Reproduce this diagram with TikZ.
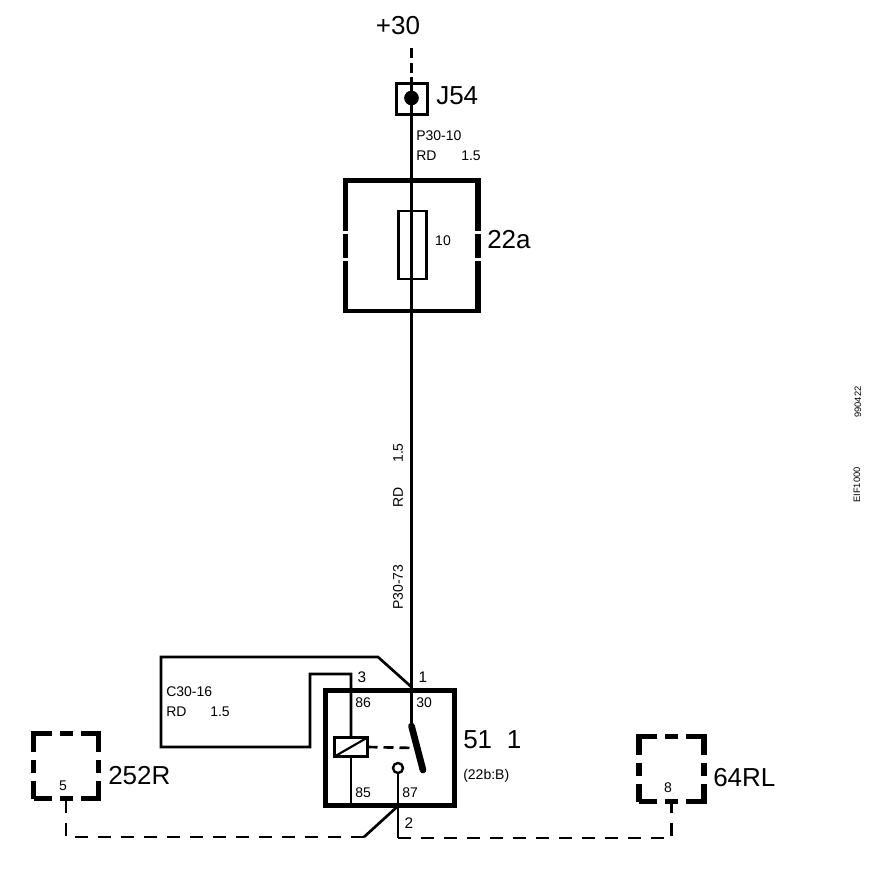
\documentclass[tikz,border=0pt]{standalone}
\usepackage{fontspec}
\setmainfont{Liberation Sans}
\usetikzlibrary{positioning,calc}

\tikzset{
    wire/.style={line width=2pt},
    mainwire/.style={line width=2.4pt},
    dashwire/.style={line width=2pt, dash pattern=on 9.75pt off 7.5pt},
    heavy/.style={line width=3.9pt},
    biglabel/.style={inner sep=0pt, font=\fontsize{19.5}{20}\selectfont},
    smalllabel/.style={inner sep=0pt, font=\fontsize{10.5}{11}\selectfont},
    pinlabel/.style={inner sep=0pt, font=\fontsize{11.5}{12}\selectfont},
    tinylabel/.style={inner sep=0pt, rotate=90, font=\fontsize{7}{8}\selectfont},
    wirelabel/.style={inner sep=0pt, rotate=90, font=\fontsize{10.5}{11}\selectfont},
    plugbox/.style={draw, outer sep=0pt, inner sep=0pt, line width=3.9pt, minimum width=48.75pt, minimum height=48.75pt,
        dash pattern=on 27pt off 6pt on 9.75pt off 6pt, dash phase=13.5pt}
}

\begin{document}
\begin{tikzpicture}[x=0.75pt, y=-0.75pt]
    \useasboundingbox (0,0) rectangle (896,878);

    % feed and splice
    \node[draw, outer sep=0pt, line width=2.4pt, minimum width=23.5pt, minimum height=23.5pt] (J54box) at (412,99) {};
    \node[circle, fill, inner sep=0pt, outer sep=0pt, minimum size=11pt] (J54dot) at (411.5,98) {};
    \coordinate (feed) at (411.5,48);
    \draw[line width=2.4pt, dash pattern=on 7.5pt off 3.5pt] (feed) -- (J54box.north -| feed);

    % fuse holder
    \node[outer sep=0pt, minimum width=99.4pt, minimum height=98pt] (holder) at (411.75,245.75) {};
    \draw[heavy] ($(holder.west)+(0,-15)$) -- (holder.north west) -- (holder.north east) -- ($(holder.east)+(0,-15)$);
    \draw[heavy] ($(holder.west)+(0,-12)$) -- ($(holder.west)+(0,12)$);
    \draw[heavy] ($(holder.east)+(0,-12)$) -- ($(holder.east)+(0,12)$);
    \draw[heavy] ($(holder.west)+(0,15)$) -- (holder.south west);
    \draw[heavy] ($(holder.east)+(0,15)$) -- (holder.south east);
    \draw[line width=2.4pt] ($(holder.south west)+(-2.5,0)$) -- ($(holder.south east)+(2.5,0)$);
    \node[draw, outer sep=0pt, line width=1.6pt, minimum width=21pt, minimum height=50.5pt] (fuse) at (412.5,245) {};

    % relay
    \node[draw, outer sep=0pt, line width=4pt, minimum width=96.75pt, minimum height=86.25pt] (relay) at (390,748) {};
    \node[draw, outer sep=0pt, line width=2pt, minimum width=24.75pt, minimum height=14.25pt] (coil) at (351,747) {};
    \node[circle, draw, outer sep=0pt, inner sep=0pt, line width=1.8pt, minimum size=7.5pt] (contact) at (398,768) {};
    \coordinate (arm) at (411.5,726);
    \coordinate (armend) at (423,770);
    \coordinate (link) at (415,748);
    \draw[line width=1.6pt] (coil.south west) -- (coil.north east);
    \draw[line width=5pt, line cap=round] (arm) -- (armend);
    \draw[wire, dash pattern=on 7.5pt off 4.5pt] (coil.east) -- (link);

    % main wire
    \draw[mainwire] (J54box.north -| feed) -- (arm);

    % pin 3 loop
    \coordinate (pin3) at (351,674);
    \coordinate (bendA) at (310,674);
    \coordinate (bendB) at (310,747);
    \coordinate (bendC) at (161,747);
    \coordinate (bendD) at (161,657);
    \coordinate (bendE) at (378,657);
    \coordinate (pin1) at (411.5,687);
    \draw[wire] (coil.north) -- (pin3) -- (bendA) -- (bendB) -- (bendC) -- (bendD) -- (bendE) -- (pin1);
    \draw[wire] (coil.south) -- (coil.south |- relay.south);

    % plugs
    \node[plugbox] (plugL) at (66,766) {};
    \node[plugbox] (plugR) at (671.5,769) {};
    \coordinate (pin2) at (398,806);
    \coordinate (groundR) at (398,838);
    \coordinate (groundL) at (364,837);
    \draw[wire] (contact.south) -- (groundR);
    \draw[wire] (pin2) -- (groundL);
    \draw[dashwire] (groundR) -- (plugR.south |- groundR) -- (plugR.south);
    \draw[dashwire] (groundL) -- (plugL.south |- groundL) -- (plugL.south);

    % labels
    \node[biglabel] (lblfeed) at (398,25.5) {+30};
    \node[biglabel, anchor=west] (lblJ54) at (436,96) {J54};
    \node[biglabel, anchor=west] (lblholder) at (487,240) {22a};
    \node[biglabel, anchor=west] (lblrelay) at (463,740) {51\hspace{11pt}1};
    \node[biglabel, anchor=west] (lblplugL) at (108,776) {252R};
    \node[biglabel, anchor=west] (lblplugR) at (713,778) {64RL};
    \node[smalllabel, anchor=west] (lblsheet) at (463,776) {(22b:B)};
    \node[smalllabel, anchor=west] (lblwireA) at (416,136) {P30-10};
    \node[smalllabel, anchor=west] (lblcolA) at (416,156) {RD};
    \node[smalllabel, anchor=west] (lblsizeA) at (461,156) {1.5};
    \node[smalllabel] (lblfuse) at (443,241) {10};
    \node[smalllabel, anchor=west] (lblwireC) at (166,692) {C30-16};
    \node[smalllabel, anchor=west] (lblcolC) at (166,712) {RD};
    \node[smalllabel, anchor=west] (lblsizeC) at (210,712) {1.5};
    \node[wirelabel] (lblsizeB) at (398,453) {1.5};
    \node[wirelabel] (lblcolB) at (398,497) {RD};
    \node[wirelabel] (lblwireB) at (398,587) {P30-73};
    \node[smalllabel, anchor=west] (lbl86) at (355,703) {86};
    \node[smalllabel, anchor=west] (lbl30) at (416,703) {30};
    \node[smalllabel, anchor=west] (lbl85) at (355,793) {85};
    \node[smalllabel, anchor=west] (lbl87) at (402,793) {87};
    \node[pinlabel] (lbl3) at (362,677) {3};
    \node[pinlabel] (lbl1) at (423,677) {1};
    \node[pinlabel] (lbl2) at (409,823) {2};
    \node[smalllabel] (lbl5) at (63,786) {5};
    \node[smalllabel] (lbl8) at (668,788) {8};
    \node[tinylabel] (lbldate) at (858,402) {990422};
    \node[tinylabel] (lblcode) at (857,485) {EIF1000};
\end{tikzpicture}
\end{document}
